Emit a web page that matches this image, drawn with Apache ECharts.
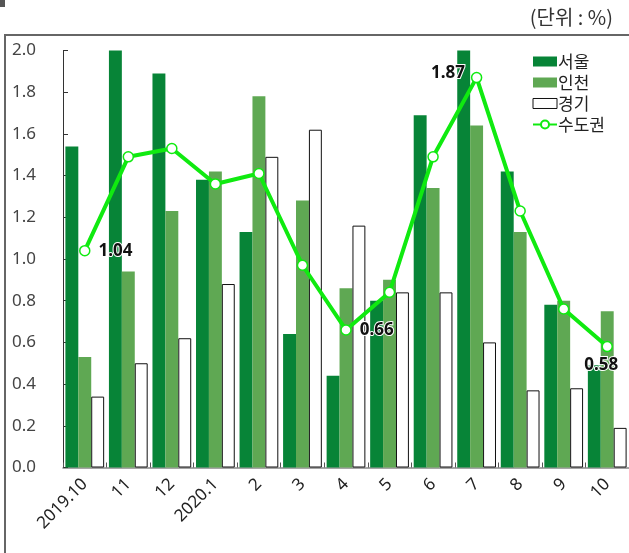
<!DOCTYPE html>
<html><head><meta charset="utf-8">
<script src="https://cdn.jsdelivr.net/npm/echarts@6/dist/echarts.min.js"></script>
<style>html,body{margin:0;padding:0;background:#fff}#c{width:629px;height:553px}</style>
</head><body><div id="c"></div>
<script>
const categories = ['2019.10','11','12','2020.1','2','3','4','5','6','7','8','9','10'];
const seoul    = [1.54, 2.00, 1.89, 1.38, 1.13, 0.64, 0.44, 0.80, 1.69, 2.00, 1.42, 0.78, 0.49];
const incheon  = [0.53, 0.94, 1.23, 1.42, 1.78, 1.28, 0.86, 0.90, 1.34, 1.64, 1.13, 0.80, 0.75];
const gyeonggi = [0.34, 0.50, 0.62, 0.88, 1.49, 1.62, 1.16, 0.84, 0.84, 0.60, 0.37, 0.38, 0.19];
const capital  = [1.04, 1.49, 1.53, 1.36, 1.41, 0.97, 0.66, 0.84, 1.49, 1.87, 1.23, 0.76, 0.58];
const seriesNames = ['서울','인천','경기','수도권'];
const yTicks = [0, 0.2, 0.4, 0.6, 0.8, 1.0, 1.2, 1.4, 1.6, 1.8, 2.0];
const unitText = '(단위 : %)';

const labelled = {0:{position:'right',distance:8}, 6:{position:'right',distance:8}, 9:{position:'left',distance:6,offset:[0,-4]}, 12:{position:'bottom',distance:4,offset:[-6,0]}};
const lineData = capital.map((v,i)=>{
  const l = labelled[i];
  if(!l) return v;
  return {value:v, label:Object.assign({show:true, formatter:p=>p.value.toFixed(2), color:'#111', fontWeight:'bold', fontSize:17, fontFamily:'Noto Sans', textBorderColor:'#fff', textBorderWidth:2}, l)};
});

const chart = echarts.init(document.getElementById('c'));
chart.setOption({
  animation:false,
  textStyle:{fontFamily:'Noto Sans'},
  graphic:[
    {type:'rect', shape:{x:5,y:35,width:700,height:600}, style:{fill:'none',stroke:'#666',lineWidth:2}},
    {type:'rect', shape:{x:0,y:0,width:5,height:7}, style:{fill:'#555'}},
    {type:'text', right:16, top:7, style:{text:unitText, fontSize:20, fontFamily:'Noto Sans CJK KR', fill:'#333'}}
  ],
  grid:{left:63, right:0, top:50.5, bottom:85.5},
  legend:{
    orient:'vertical', left:527, top:48, itemWidth:24, itemHeight:10, itemGap:4,
    textStyle:{fontSize:17, fontFamily:'Noto Sans CJK KR', color:'#222', padding:[0,0,0,-4]},
    data:[{name:seriesNames[0],icon:'rect'},{name:seriesNames[1],icon:'rect'},{name:seriesNames[2],icon:'rect',itemStyle:{borderWidth:1}},{name:seriesNames[3]}]
  },
  xAxis:{
    type:'category', data:categories,
    axisLine:{lineStyle:{color:'#888',width:1.5}},
    axisTick:{show:true, inside:true, length:5, lineStyle:{color:'#555'}},
    axisLabel:{rotate:45, fontSize:17, color:'#222', margin:14, interval:0}
  },
  yAxis:{
    type:'value', min:0, max:2, interval:0.2,
    splitLine:{show:false},
    axisLine:{show:true, lineStyle:{color:'#333'}},
    axisTick:{show:true, inside:true, length:5, lineStyle:{color:'#333'}},
    axisLabel:{fontSize:17, color:'#444', align:'left', margin:51, formatter:v=>v.toFixed(1)}
  },
  series:[
    {name:seriesNames[0], type:'bar', data:seoul, barGap:'0%', barCategoryGap:'11%', itemStyle:{color:'#078437'}},
    {name:seriesNames[1], type:'bar', data:incheon, itemStyle:{color:'#5fa853'}},
    {name:seriesNames[2], type:'bar', data:gyeonggi, itemStyle:{color:'#fff', borderColor:'#111', borderWidth:1}},
    {name:seriesNames[3], type:'line', data:lineData, z:5, symbol:'circle', symbolSize:10,
      lineStyle:{color:'#10ea10', width:4}, itemStyle:{color:'#fff', borderColor:'#10ea10', borderWidth:1.5}}
  ]
});
</script></body></html>
